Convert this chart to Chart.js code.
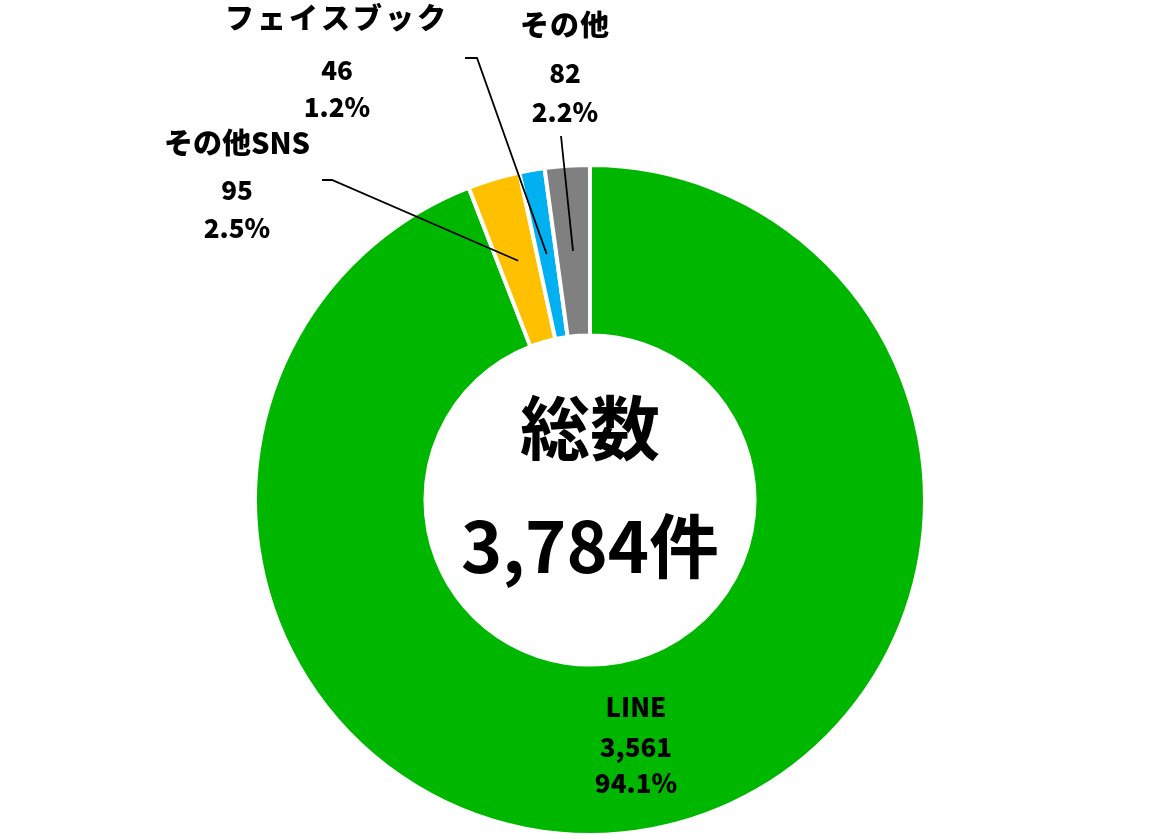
<!DOCTYPE html>
<html>
<head>
<meta charset="utf-8">
<script src="https://cdn.jsdelivr.net/npm/chart.js@4.4.1/dist/chart.umd.min.js"></script>
<style>
  html, body { margin: 0; padding: 0; background: #ffffff; }
  #wrap { width: 1160px; height: 840px; }
</style>
</head>
<body>
<div id="wrap"><canvas id="c" width="1160" height="840"></canvas></div>
<script>
const categories = ['LINE', 'その他SNS', 'フェイスブック', 'その他'];
const counts = [3561, 95, 46, 82];
const percentLabels = ['94.1%', '2.5%', '1.2%', '2.2%'];
const countLabels = ['3,561', '95', '46', '82'];
const colors = ['#00B700', '#FFC000', '#00B0F0', '#808080'];
const centerTitle = '総数';
const centerTotal = '3,784件';

const FONT = "'Noto Sans CJK JP', sans-serif";

// Layout of the outside labels, relative to the doughnut centre (dx, dy)
const outsideLayout = {
  1: { text: { dx: -353, dys: [-357, -310, -272] }, spacing: '0px', start: { dx: -268, dy: -320 }, knee: { dx: -258, dy: -320 } },
  2: { text: { dx: -253, dys: [-482, -430, -393] }, spacing: '3px', start: { dx: -125, dy: -442 }, knee: { dx: -113, dy: -442 } },
  3: { text: { dx: -25, dys: [-475, -427, -388] }, spacing: '1px', start: { dx: -29, dy: -364 }, knee: null }
};

const labelPlugin = {
  id: 'labelPlugin',
  afterDraw(chart) {
    const ctx = chart.ctx;
    const meta = chart.getDatasetMeta(0);
    const arcs = meta.data;
    const cx = arcs[0].x, cy = arcs[0].y;
    ctx.save();
    ctx.textAlign = 'center';
    ctx.textBaseline = 'middle';
    ctx.fillStyle = '#000';

    // centre text
    ctx.font = "bold 70px " + FONT;
    ctx.fillText(centerTitle, cx, cy - 72);
    ctx.font = "bold 70px " + FONT;
    ctx.fillText(centerTotal, cx, cy + 46);

    arcs.forEach((arc, i) => {
      const mid = (arc.startAngle + arc.endAngle) / 2;
      const r = (arc.innerRadius + arc.outerRadius) / 2;
      const px = cx + Math.cos(mid) * r;
      const py = cy + Math.sin(mid) * r;
      const lines = [categories[i], countLabels[i], percentLabels[i]];
      if (i === 0) {
        ctx.font = '900 26px ' + FONT;
        ctx.fillText(lines[0], px, py - 38);
        ctx.fillText(lines[1], px, py + 2);
        ctx.fillText(lines[2], px, py + 38);
        return;
      }
      const L = outsideLayout[i];
      ctx.font = '900 29px ' + FONT;
      ctx.letterSpacing = L.spacing;
      ctx.fillText(lines[0], cx + L.text.dx, cy + L.text.dys[0]);
      ctx.letterSpacing = '0px';
      ctx.font = '900 26px ' + FONT;
      ctx.fillText(lines[1], cx + L.text.dx, cy + L.text.dys[1]);
      ctx.fillText(lines[2], cx + L.text.dx, cy + L.text.dys[2]);
      // leader line
      ctx.beginPath();
      ctx.strokeStyle = '#000';
      ctx.lineWidth = 1.8;
      ctx.moveTo(cx + L.start.dx, cy + L.start.dy);
      if (L.knee) ctx.lineTo(cx + L.knee.dx, cy + L.knee.dy);
      ctx.lineTo(px, py);
      ctx.stroke();
    });
    ctx.restore();
  }
};

new Chart(document.getElementById('c'), {
  type: 'doughnut',
  data: {
    labels: categories,
    datasets: [{
      data: counts,
      backgroundColor: colors,
      borderColor: '#ffffff',
      borderWidth: 4,
      hoverOffset: 0
    }]
  },
  options: {
    responsive: false,
    animation: false,
    radius: 335,
    cutout: 166,
    layout: { padding: { left: 20, right: 0, top: 160, bottom: 0 } },
    plugins: {
      legend: { display: false },
      tooltip: { enabled: false }
    }
  },
  plugins: [labelPlugin]
});
</script>
</body>
</html>
